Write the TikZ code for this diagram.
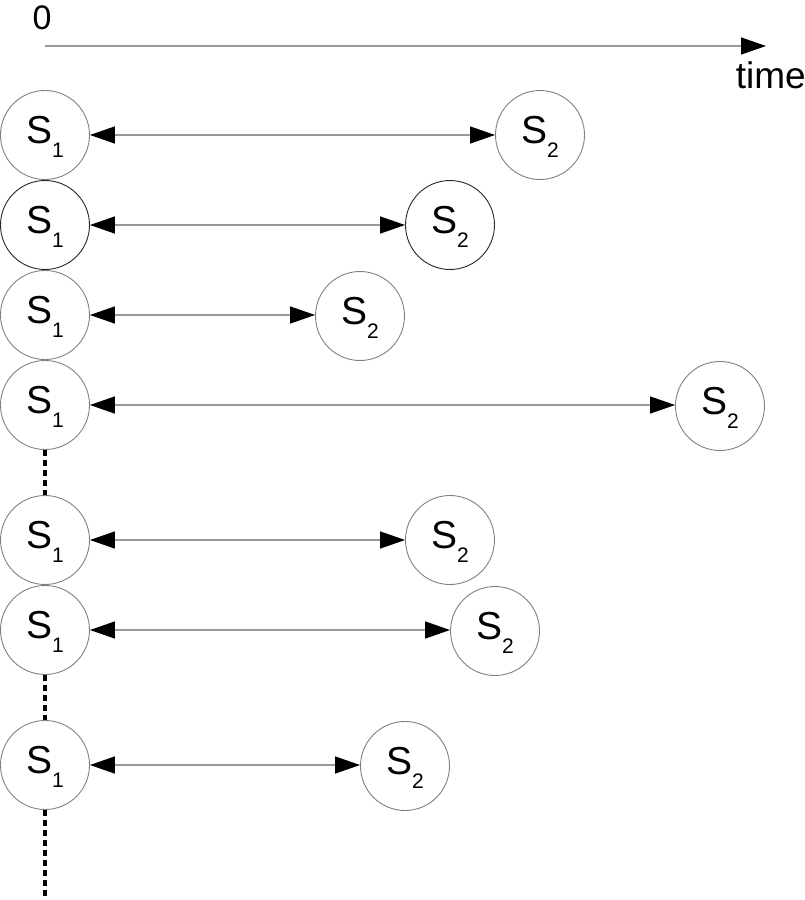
\documentclass[tikz,border=0pt]{standalone}
\usepackage{fontspec}
\setmainfont{Liberation Sans}
\usetikzlibrary{arrows.meta}
\newcommand\Slab[1]{S\raisebox{-14pt}[0pt][10pt]{\fontsize{21}{21}\selectfont #1}}
\tikzset{
  st/.style={circle, draw=black!50, line width=0.9pt, minimum size=89pt, inner sep=0pt,
             font=\fontsize{39}{39}\selectfont},
  stdark/.style={st, draw=black!85},
  link/.style={draw=black!40, line width=1.4pt, {Triangle[length=25pt,width=17pt,color=black]}-{Triangle[length=25pt,width=17pt,color=black]}},
  gap/.style={draw=black, line width=3.2pt, dash pattern=on 6pt off 4pt},
  axis/.style={draw=black!40, line width=1.4pt, -{Triangle[length=25pt,width=17pt,color=black]}},
  lab/.style={font=\fontsize{34}{34}\selectfont, inner sep=0pt}
}
\begin{document}
\begin{tikzpicture}[x=1pt,y=-1pt]
\useasboundingbox (0,0) rectangle (805,900);
\node[lab] (zero) at (42,18) {0};
\coordinate (t0) at (45,46);
\coordinate (t1) at (766,46);
\draw[axis] (t0) -- (t1);
\node[lab, font=\fontsize{37}{37}\selectfont, anchor=east] (time) at (806,75) {time};
% rows
\node[st] (a1) at (45,135) {\Slab1};
\node[st] (b1) at (540,135) {\Slab2};
\node[stdark] (a2) at (45,225) {\Slab1};
\node[stdark] (b2) at (450,225) {\Slab2};
\node[st] (a3) at (45,315) {\Slab1};
\node[st] (b3) at (360,316) {\Slab2};
\node[st] (a4) at (45,405) {\Slab1};
\node[st] (b4) at (720,406) {\Slab2};
\node[st] (a5) at (45,540) {\Slab1};
\node[st] (b5) at (450,540) {\Slab2};
\node[st] (a6) at (45,630) {\Slab1};
\node[st] (b6) at (495,631) {\Slab2};
\node[st] (a7) at (45,765) {\Slab1};
\node[st] (b7) at (405,766) {\Slab2};
\foreach \i in {1,...,7} { \draw[link] (a\i) -- (a\i -| b\i.west); }
\draw[gap] (a4.south) -- (a5.north);
\draw[gap] (a6.south) -- (a7.north);
\coordinate (bot) at (45,900);
\draw[gap] (a7.south) -- (bot);
\end{tikzpicture}
\end{document}
